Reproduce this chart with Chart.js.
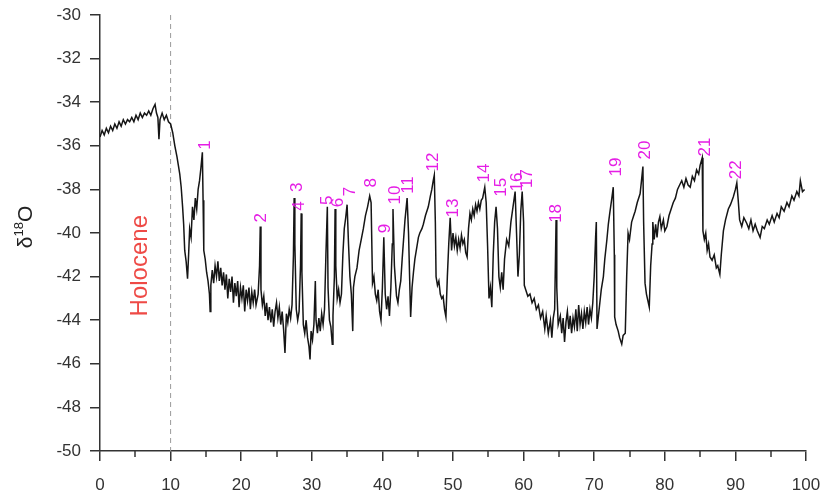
<!DOCTYPE html>
<html>
<head>
<meta charset="utf-8">
<script src="https://cdn.jsdelivr.net/npm/chart.js@4.4.1/dist/chart.umd.min.js"></script>
<style>
  html, body { margin: 0; padding: 0; background: #fff; }
  #wrap { width: 825px; height: 499px; position: relative; }
</style>
</head>
<body>
<div id="wrap"><canvas id="chart"></canvas></div>
<script>
// --- DATA (age in ka, d18O in permil) ---
const ages = [
  0, 0.3, 0.6, 0.9, 1.2, 1.5, 1.8, 2.1, 2.4, 2.7,
  3.0, 3.3, 3.6, 3.9, 4.2, 4.5, 4.8, 5.1, 5.4, 5.7,
  6.0, 6.3, 6.6, 6.9, 7.2, 7.5, 7.8, 8.0, 8.2, 8.35,
  8.5, 8.8, 9.1, 9.4, 9.7, 10.0, 10.3, 10.6, 10.9, 11.1,
  11.3, 11.5, 11.7, 11.85, 12.0, 12.2, 12.4, 12.55, 12.7, 12.9,
  13.1, 13.3, 13.5, 13.7, 13.9, 14.1, 14.3, 14.5, 14.6, 14.7,
  14.9, 15.1, 15.3, 15.5, 15.6, 15.7, 15.9, 16.1, 16.3, 16.5,
  16.7, 16.9, 17.1, 17.3, 17.5, 17.7, 17.9, 18.1, 18.3, 18.5,
  18.7, 18.9, 19.1, 19.3, 19.5, 19.7, 19.9, 20.1, 20.3, 20.5,
  20.7, 20.9, 21.1, 21.3, 21.5, 21.7, 21.9, 22.1, 22.4, 22.6,
  22.7, 22.8, 23.0, 23.2, 23.4, 23.6, 23.8, 24.0, 24.2, 24.4,
  24.6, 24.8, 25.0, 25.2, 25.4, 25.6, 25.8, 26.0, 26.2, 26.4,
  26.6, 26.8, 27.0, 27.2, 27.4, 27.5, 27.6, 27.8, 28.0, 28.2,
  28.4, 28.5, 28.6, 28.8, 29.0, 29.2, 29.4, 29.6, 29.75, 29.9,
  30.1, 30.3, 30.5, 30.6, 30.8, 31.0, 31.2, 31.4, 31.6, 31.8,
  32.0, 32.2, 32.3, 32.5, 32.7, 32.9, 33.0, 33.2, 33.3, 33.4,
  33.6, 33.8, 34.0, 34.2, 34.4, 34.6, 34.8, 35.0, 35.2, 35.4,
  35.6, 35.8, 35.9, 36.1, 36.4, 36.7, 37.0, 37.3, 37.6, 37.9,
  38.2, 38.4, 38.6, 38.8, 39.0, 39.2, 39.4, 39.6, 39.8, 40.0,
  40.2, 40.4, 40.6, 40.8, 41.0, 41.2, 41.4, 41.5, 41.7, 42.0,
  42.2, 42.4, 42.6, 42.8, 43.0, 43.2, 43.5, 43.7, 43.9, 44.0,
  44.2, 44.4, 44.6, 44.9, 45.1, 45.3, 45.6, 45.8, 46.1, 46.5,
  46.8, 47.0, 47.2, 47.35, 47.5, 47.6, 47.8, 48.0, 48.2, 48.4,
  48.6, 48.8, 49.0, 49.2, 49.4, 49.6, 49.8, 50.0, 50.2, 50.4,
  50.6, 50.8, 51.0, 51.2, 51.4, 51.6, 51.8, 52.0, 52.2, 52.4,
  52.6, 52.8, 53.0, 53.2, 53.4, 53.6, 53.8, 54.0, 54.2, 54.5,
  54.7, 54.9, 55.1, 55.3, 55.5, 55.7, 55.9, 56.1, 56.3, 56.5,
  56.7, 56.9, 57.1, 57.3, 57.6, 57.9, 58.2, 58.5, 58.8, 59.0,
  59.2, 59.4, 59.6, 59.8, 60.0, 60.1, 60.3, 60.6, 60.9, 61.2,
  61.5, 61.8, 62.1, 62.4, 62.7, 63.0, 63.2, 63.5, 63.8, 64.0,
  64.2, 64.4, 64.6, 64.7, 64.9, 65.2, 65.4, 65.6, 65.8, 66.0,
  66.2, 66.4, 66.6, 66.8, 67.0, 67.2, 67.4, 67.6, 67.8, 68.0,
  68.2, 68.4, 68.6, 68.8, 69.0, 69.2, 69.4, 69.6, 69.8, 70.0,
  70.2, 70.3, 70.4, 70.6, 70.8, 71.0, 71.3, 71.5, 71.8, 72.0,
  72.2, 72.5, 72.7, 72.85, 72.9, 73.1, 73.4, 73.6, 73.9, 74.1,
  74.4, 74.6, 74.8, 75.0, 75.3, 75.6, 75.8, 76.1, 76.5, 76.7,
  76.9, 77.0, 77.2, 77.4, 77.6, 77.8, 78.0, 78.2, 78.3, 78.5,
  78.7, 78.9, 79.1, 79.3, 79.5, 79.8, 80.0, 80.3, 80.6, 80.9,
  81.2, 81.5, 81.8, 82.1, 82.4, 82.7, 83.0, 83.3, 83.6, 83.9,
  84.2, 84.5, 84.8, 85.0, 85.3, 85.4, 85.6, 85.8, 86.0, 86.2,
  86.4, 86.7, 87.0, 87.3, 87.5, 87.8, 88.0, 88.3, 88.6, 89.0,
  89.3, 89.7, 90.0, 90.2, 90.4, 90.6, 90.9, 91.2, 91.6, 91.9,
  92.2, 92.5, 92.8, 93.1, 93.5, 93.8, 94.1, 94.5, 94.8, 95.2,
  95.5, 95.9, 96.2, 96.5, 96.9, 97.3, 97.6, 98.0, 98.3, 98.7,
  99.0, 99.2, 99.5, 99.8
];

const d18O = [
  -35.6, -35.3, -35.5, -35.2, -35.4, -35.1, -35.3, -35.0, -35.2, -34.9,
  -35.1, -34.8, -35.0, -34.8, -34.9, -34.7, -34.9, -34.6, -34.8, -34.5,
  -34.7, -34.5, -34.6, -34.4, -34.6, -34.3, -34.1, -34.5, -34.7, -35.7,
  -34.8, -34.5, -34.8, -34.6, -34.9, -35.0, -35.4, -36.0, -36.5, -36.9,
  -37.3, -37.9, -38.8, -39.6, -40.8, -41.3, -42.1, -41.0, -39.8, -40.2,
  -38.8, -39.4, -38.4, -38.9, -38.0, -37.6, -37.0, -36.3, -38.5, -40.8,
  -41.2, -41.8, -42.2, -42.8, -43.6, -42.4, -41.7, -42.3, -41.5, -42.0,
  -41.3, -42.2, -41.6, -42.4, -41.8, -42.6, -41.9, -43.0, -42.1, -42.7,
  -42.0, -43.2, -42.3, -42.9, -42.2, -43.4, -42.5, -43.0, -42.4, -43.6,
  -42.6, -43.1, -42.5, -43.5, -42.7, -43.2, -42.6, -43.3, -42.8, -41.5,
  -39.7, -42.6, -43.3, -42.9, -43.8, -43.2, -44.0, -43.4, -44.1, -43.5,
  -44.3, -43.6, -43.2, -43.9, -43.4, -44.2, -43.6, -44.4, -45.5, -43.7,
  -44.1, -43.5, -43.9, -43.3, -41.0, -38.4, -40.5, -43.5, -44.0, -43.6,
  -41.5, -39.1, -41.8, -44.2, -44.6, -44.0, -44.8, -45.2, -45.8, -44.5,
  -44.9, -44.2, -42.2, -44.0, -44.6, -43.9, -44.5, -43.7, -44.2, -43.5,
  -41.0, -38.8, -42.5, -44.0, -44.3, -45.1, -43.8, -42.0, -38.9, -41.5,
  -43.0, -42.6, -43.2, -42.8, -41.0, -39.8, -39.3, -38.7, -40.5, -42.0,
  -42.8, -44.5, -42.5, -42.0, -41.6, -40.8, -40.3, -39.8, -39.2, -38.8,
  -38.3, -38.6, -42.3, -42.0, -42.8, -43.1, -42.6, -43.6, -44.0, -42.5,
  -40.2, -42.8, -43.5, -42.9, -43.8, -42.5, -40.5, -38.9, -41.5, -42.9,
  -43.2, -42.6, -42.2, -41.2, -40.3, -39.4, -38.4, -40.0, -42.6, -43.85,
  -42.5, -41.8, -41.2, -40.6, -40.2, -40.0, -39.8, -39.6, -39.2, -38.8,
  -38.3, -38.0, -37.6, -37.35, -39.5, -42.0, -42.4, -42.2, -42.8, -43.0,
  -42.9, -43.5, -43.85, -42.0, -40.5, -39.3, -40.8, -40.0, -40.6, -40.2,
  -40.8, -40.3, -40.7, -40.1, -40.5, -40.3, -40.9, -41.1, -39.8, -39.1,
  -39.4, -38.9, -39.2, -38.7, -39.0, -38.6, -38.9, -38.5, -38.4, -37.9,
  -38.6, -40.6, -43.0, -42.5, -43.4, -41.0, -39.5, -38.8, -39.8, -42.0,
  -42.5, -41.8, -42.6, -41.2, -40.3, -40.6, -39.5, -38.8, -38.1, -40.0,
  -42.0, -41.0, -39.0, -38.1, -39.5, -42.4, -42.6, -42.9, -42.8, -43.2,
  -43.0, -43.5, -43.3, -43.9, -43.6, -44.4, -43.8, -44.6, -44.0, -44.8,
  -43.9, -43.5, -39.4, -42.5, -44.2, -43.8, -44.6, -43.9, -45.0, -44.1,
  -43.6, -44.4, -43.8, -44.6, -43.9, -44.3, -43.5, -44.5, -43.3, -44.2,
  -43.7, -44.4, -43.6, -44.1, -43.4, -44.2, -43.5, -43.9, -43.2, -42.0,
  -40.2, -39.5, -44.4, -43.8, -43.2, -42.6, -42.0, -41.2, -40.3, -39.6,
  -39.1, -38.4, -37.9, -41.0, -43.85, -44.2, -44.5, -44.8, -45.1, -44.7,
  -44.6, -42.0, -40.0, -40.3, -39.5, -39.2, -39.0, -38.6, -38.2, -37.6,
  -36.95, -39.5, -42.3, -42.8, -43.1, -43.4, -41.5, -40.5, -39.5, -40.3,
  -39.6, -40.2, -39.5, -39.25, -39.8, -39.4, -39.9, -39.7, -39.2, -38.9,
  -38.6, -38.4, -38.0, -37.8, -37.6, -37.9, -37.5, -37.8, -37.9, -37.4,
  -37.6, -37.1, -37.3, -36.9, -36.55, -39.9, -40.3, -40.0, -40.8, -40.5,
  -41.1, -41.25, -41.0, -41.6, -41.5, -41.9, -41.0, -39.9, -39.4, -38.9,
  -38.7, -38.35, -38.0, -37.7, -38.5, -39.4, -39.7, -39.3, -39.55, -39.8,
  -39.4, -39.9, -39.6, -39.9, -40.2, -39.7, -39.8, -39.4, -39.6, -39.2,
  -39.5, -39.1, -39.3, -38.8, -39.0, -38.6, -38.8, -38.3, -38.5, -38.1,
  -38.3, -37.6, -38.1, -38.0
];

// interstadial numbers and where their labels sit
const eventNumbers = ['1','2','3','4','5','6','7','8','9','10','11','12','13','14','15','16','17','18','19','20','21','22'];
const eventAges = [14.9, 22.9, 27.9, 28.3, 32.2, 33.7, 35.4, 38.5, 40.4, 41.8, 43.6, 47.2, 50.0, 54.5, 56.9, 59.1, 60.5, 64.7, 73.2, 77.2, 85.7, 90.2];
const eventLevels = [-35.96, -39.3, -37.9, -38.76, -38.5, -38.6, -38.1, -37.7, -39.8, -38.26, -37.8, -36.74, -38.85, -37.25, -37.9, -37.66, -37.5, -39.1, -36.97, -36.19, -36.06, -37.1];

const holoceneAge = 10;
const holoceneLabelPos = [5.7, -41.5];
const yMin = -50, yMax = -30;
const xMin = 0, xMax = 100;

const FONT = '"Liberation Sans", Arial, sans-serif';

// --- PLUGIN: labels, minor ticks, axis title ---
const annotations = {
  id: 'annotations',
  afterDraw(chart) {
    const ctx = chart.ctx;
    const xs = chart.scales.x, ys = chart.scales.y;

    // minor x ticks (every 5, shorter)
    ctx.save();
    ctx.strokeStyle = '#333';
    ctx.lineWidth = 1.5;
    for (let v = 5; v < xMax; v += 10) {
      const px = Math.round(xs.getPixelForValue(v));
      ctx.beginPath();
      ctx.moveTo(px, ys.bottom);
      ctx.lineTo(px, ys.bottom + 6);
      ctx.stroke();
    }
    ctx.restore();

    // event numbers
    ctx.save();
    ctx.fillStyle = '#e51ee5';
    ctx.font = '17px ' + FONT;
    ctx.textAlign = 'center';
    ctx.textBaseline = 'middle';
    eventNumbers.forEach((t, i) => {
      ctx.save();
      ctx.translate(xs.getPixelForValue(eventAges[i]), ys.getPixelForValue(eventLevels[i]));
      ctx.rotate(-Math.PI / 2);
      ctx.fillText(t, 0, 0);
      ctx.restore();
    });
    ctx.restore();

    // Holocene
    ctx.save();
    ctx.fillStyle = '#ee4a46';
    ctx.font = '24px ' + FONT;
    ctx.textAlign = 'center';
    ctx.textBaseline = 'middle';
    ctx.translate(xs.getPixelForValue(holoceneLabelPos[0]), ys.getPixelForValue(holoceneLabelPos[1]));
    ctx.rotate(-Math.PI / 2);
    ctx.fillText('Holocene', 0, 0);
    ctx.restore();

    // y axis title: δ18O
    ctx.save();
    ctx.fillStyle = '#222';
    ctx.translate(26, 227);
    ctx.rotate(-Math.PI / 2);
    ctx.textBaseline = 'middle';
    const big = '21px ' + FONT;
    const small = '13px ' + FONT;
    ctx.font = big; const wd = ctx.measureText('δ').width; const wo = ctx.measureText('O').width;
    ctx.font = small; const ws = ctx.measureText('18').width;
    let x0 = -(wd + ws + wo) / 2;
    ctx.font = big; ctx.fillText('δ', x0, 0); x0 += wd;
    ctx.font = small; ctx.fillText('18', x0, -7); x0 += ws;
    ctx.font = big; ctx.fillText('O', x0, 0);
    ctx.restore();
  }
};

// --- CHART ---
const recordPoints = ages.map((a, i) => ({ x: a, y: d18O[i] }));

new Chart(document.getElementById('chart').getContext('2d'), {
  type: 'line',
  data: {
    datasets: [
      {
        data: recordPoints,
        borderColor: '#151515',
        borderWidth: 1.5,
        pointRadius: 0,
        tension: 0
      },
      {
        data: [{ x: holoceneAge, y: yMax }, { x: holoceneAge, y: yMin }],
        borderColor: '#9a9a9a',
        borderWidth: 1,
        borderDash: [5, 4],
        pointRadius: 0
      }
    ]
  },
  options: {
    responsive: true,
    maintainAspectRatio: false,
    animation: false,
    layout: { autoPadding: false, padding: { top: 15, right: 19, left: 0, bottom: 0 } },
    plugins: { legend: { display: false }, tooltip: { enabled: false } },
    scales: {
      x: {
        type: 'linear',
        min: xMin, max: xMax,
        afterFit: s => { s.height = 48; s.paddingLeft = 0; s.paddingRight = 0; },
        ticks: { stepSize: 10, color: '#333', padding: 14, maxRotation: 0, font: { size: 17, family: FONT } },
        grid: { drawOnChartArea: false, drawTicks: true, tickLength: 10, color: '#333', lineWidth: 1.5 },
        border: { display: true, color: '#333', width: 1.5 }
      },
      y: {
        min: yMin, max: yMax,
        afterFit: s => { s.width = 100; s.paddingTop = 0; s.paddingBottom = 0; },
        ticks: { stepSize: 2, color: '#333', padding: 9, font: { size: 17, family: FONT } },
        grid: { drawOnChartArea: false, drawTicks: true, tickLength: 10, color: '#333', lineWidth: 1.5 },
        border: { display: true, color: '#333', width: 1.5 }
      }
    }
  },
  plugins: [annotations]
});
</script>
</body>
</html>
